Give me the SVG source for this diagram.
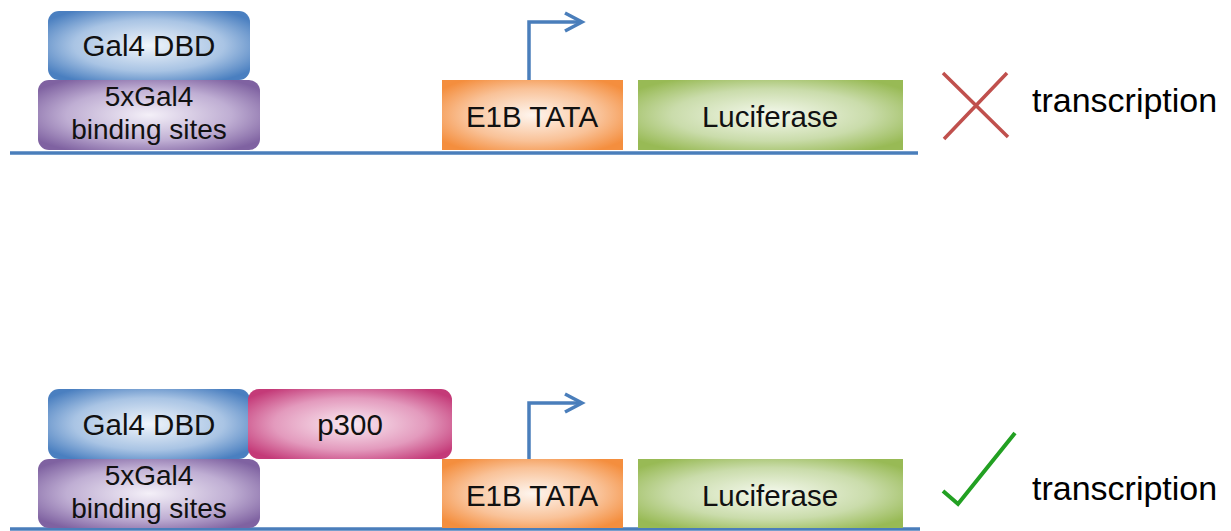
<svg xmlns="http://www.w3.org/2000/svg" width="1231" height="531" viewBox="0 0 1231 531">
<defs>
<radialGradient id="gBlue" cx="0.5" cy="0.5" r="0.62"><stop offset="0" stop-color="#f0f5fb"/><stop offset="0.6" stop-color="#a9c4e4"/><stop offset="1" stop-color="#4a7fc0"/></radialGradient>
<radialGradient id="gPurple" cx="0.5" cy="0.5" r="0.62"><stop offset="0" stop-color="#f4f0f8"/><stop offset="0.6" stop-color="#bfaed3"/><stop offset="1" stop-color="#7f62a1"/></radialGradient>
<radialGradient id="gOrange" cx="0.5" cy="0.5" r="0.62"><stop offset="0" stop-color="#fef5ee"/><stop offset="0.6" stop-color="#f9c298"/><stop offset="1" stop-color="#f48e3e"/></radialGradient>
<radialGradient id="gGreen" cx="0.5" cy="0.5" r="0.62"><stop offset="0" stop-color="#f5f9ee"/><stop offset="0.6" stop-color="#cadcab"/><stop offset="1" stop-color="#98ba55"/></radialGradient>
<radialGradient id="gPink" cx="0.5" cy="0.5" r="0.62"><stop offset="0" stop-color="#faeaf2"/><stop offset="0.6" stop-color="#e39abd"/><stop offset="1" stop-color="#c43a78"/></radialGradient>
<style>
.lbl{font-family:"Liberation Sans",Arial,sans-serif;font-size:29.5px;fill:#111;text-anchor:middle}
.lbl2{font-family:"Liberation Sans",Arial,sans-serif;font-size:28px;fill:#111;text-anchor:middle}
.tr{font-family:"Liberation Sans",Arial,sans-serif;font-size:34px;fill:#000}
.dna{stroke:#4a7ebb;stroke-width:3.5;fill:none}
.prom{stroke:#4a7ebb;stroke-width:3.5;fill:none;stroke-linejoin:miter}
</style>
</defs>
<rect width="1231" height="531" fill="#fff"/>

<g id="dna-lines">
<line class="dna" x1="10" y1="153" x2="918" y2="153"/>
<line class="dna" x1="10" y1="529" x2="920" y2="529"/>
</g>

<!-- top construct -->
<g id="top-5xGal4">
<rect x="38" y="80" width="222" height="70" rx="11" fill="url(#gPurple)"/>
<text class="lbl2" x="149" y="106">5xGal4</text>
<text class="lbl2" x="149" y="139">binding sites</text>
</g>
<g id="top-Gal4DBD">
<rect x="48" y="11" width="202" height="69" rx="11" fill="url(#gBlue)"/>
<text class="lbl" x="149" y="56">Gal4 DBD</text>
</g>
<g id="top-E1B">
<rect x="442" y="80" width="181" height="70" fill="url(#gOrange)"/>
<text class="lbl" x="532" y="127">E1B TATA</text>
</g>
<g id="top-Luciferase">
<rect x="638" y="80" width="265" height="70" fill="url(#gGreen)"/>
<text class="lbl" x="770" y="127">Luciferase</text>
</g>
<g id="top-result">
<path d="M943 73 L1008 137 M1007 73 L944 139" stroke="#c0504d" stroke-width="3.5" fill="none"/>
<text class="tr" x="1032" y="112">transcription</text>
</g>

<!-- bottom construct -->
<g id="bot-5xGal4">
<rect x="38" y="459" width="222" height="69" rx="11" fill="url(#gPurple)"/>
<text class="lbl2" x="149" y="485">5xGal4</text>
<text class="lbl2" x="149" y="518">binding sites</text>
</g>
<g id="bot-Gal4DBD">
<rect x="48" y="389" width="202" height="70" rx="11" fill="url(#gBlue)"/>
<text class="lbl" x="149" y="435">Gal4 DBD</text>
</g>
<g id="bot-p300">
<rect x="248" y="389" width="204" height="70" rx="11" fill="url(#gPink)"/>
<text class="lbl" x="350" y="435">p300</text>
</g>
<g id="bot-E1B">
<rect x="442" y="459" width="181" height="69" fill="url(#gOrange)"/>
<text class="lbl" x="532" y="506">E1B TATA</text>
</g>
<g id="bot-Luciferase">
<rect x="638" y="459" width="265" height="69" fill="url(#gGreen)"/>
<text class="lbl" x="770" y="506">Luciferase</text>
</g>
<g id="bot-result">
<path d="M943 491 L958 504 L1015 433" stroke="#22a022" stroke-width="4" fill="none"/>
<text class="tr" x="1032" y="500">transcription</text>
</g>

<g id="connectors">
<path class="prom" d="M529 80 V22 H581"/>
<path class="prom" d="M565 13 L582 22 L565 31"/>
<path class="prom" d="M529 459 V403 H581"/>
<path class="prom" d="M565 394 L582 403 L565 412"/>
</g>
</svg>
